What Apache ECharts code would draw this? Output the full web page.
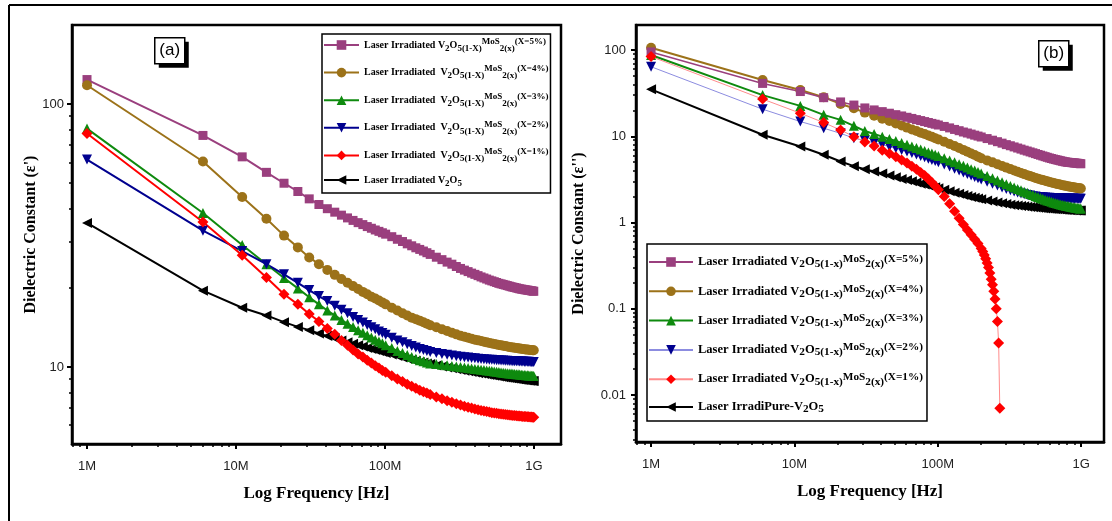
<!DOCTYPE html>
<html><head><meta charset="utf-8">
<script src="https://cdn.jsdelivr.net/npm/echarts@6/dist/echarts.min.js"></script>
<style>html,body{margin:0;padding:0;background:#fff}#c{width:1112px;height:521px}</style>
</head><body><div id="c"></div>
<script>
// ---------- DATA ----------
const FREQ_MHZ = [1,6,11,16,21,26,31,36,41,46,51,56,61,66,71,76,81,86,91,96,101,
  111,121,131,141,151,161,171,181,191,201,
  221,241,261,281,301,321,341,361,381,401,421,441,461,481,501,521,541,561,581,601,621,641,661,681,701,721,741,761,781,801,821,841,861,881,901,921,941,961,981,996];
const FREQ_RED_B_MHZ = [1,6,11,16,21,26,31,36,41,46,51,56,61,66,71,76,81,86,91,96,101,111,121,131,141,151,161,171,181,191,201,206,211,216,221,226,231,236,241,246,251,256,261,266,271];

// Panel (a): real part epsilon'
const A_X5 = [124,76,63,55,50,46.5,43.6,41.5,40.0,38.8,37.8,36.9,36.1,35.4,34.8,34.2,33.7,33.2,32.8,32.4,32.0,
  31.3,30.6,30.0,29.4,28.9,28.4,28.0,27.6,27.2,26.8,
  26.15,25.6,25.05,24.6,24.1,23.7,23.35,23.05,22.75,22.5,22.25,22.0,21.8,21.6,21.4,21.25,21.1,20.95,20.8,20.7,20.6,20.5,20.4,20.3,20.2,20.12,20.05,19.98,19.9,19.83,19.78,19.73,19.68,19.64,19.6,19.56,19.52,19.48,19.44,19.4];
const A_X4 = [118,60.5,44.3,36.6,31.6,28.5,26.1,24.6,23.4,22.4,21.6,20.9,20.3,19.8,19.3,18.9,18.5,18.2,17.9,17.6,17.3,
  16.8,16.4,16.0,15.7,15.4,15.2,15.0,14.8,14.6,14.4,
  14.15,13.9,13.7,13.5,13.3,13.15,13.03,12.92,12.8,12.7,12.62,12.54,12.47,12.4,12.33,12.28,12.23,12.18,12.13,12.08,12.04,12.0,11.96,11.92,11.89,11.86,11.83,11.8,11.77,11.74,11.72,11.7,11.68,11.66,11.64,11.62,11.6,11.59,11.58,11.57];
const A_X3 = [80.7,38.5,29.1,24.6,21.8,19.9,18.4,17.3,16.4,15.7,15.1,14.6,14.2,13.8,13.5,13.2,12.95,12.7,12.5,12.3,12.1,
  11.8,11.5,11.3,11.1,10.9,10.75,10.6,10.5,10.4,10.3,
  10.25,10.2,10.14,10.09,10.04,9.99,9.95,9.91,9.87,9.83,9.79,9.76,9.73,9.7,9.67,9.64,9.61,9.58,9.56,9.53,9.51,9.49,9.47,9.45,9.43,9.41,9.4,9.38,9.37,9.35,9.34,9.32,9.31,9.3,9.29,9.28,9.27,9.26,9.25,9.24];
const A_X2 = [61.5,33,27.6,24.6,22.5,20.9,19.6,18.6,17.8,17.1,16.5,16.0,15.5,15.1,14.75,14.45,14.15,13.9,13.65,13.45,13.25,
  12.9,12.6,12.4,12.2,12.0,11.85,11.7,11.6,11.5,11.4,
  11.3,11.2,11.12,11.05,10.99,10.94,10.89,10.85,10.81,10.78,10.75,10.72,10.7,10.68,10.66,10.64,10.62,10.61,10.6,10.58,10.57,10.56,10.55,10.54,10.53,10.52,10.51,10.5,10.5,10.49,10.48,10.48,10.47,10.47,10.46,10.46,10.45,10.45,10.44,10.44];
const A_X1 = [77.3,35.6,26.6,21.9,18.9,17.3,15.9,14.9,14.0,13.3,12.6,12.1,11.6,11.2,10.9,10.6,10.35,10.1,9.9,9.7,9.55,
  9.25,9.0,8.8,8.6,8.45,8.3,8.15,8.05,7.95,7.85,
  7.69,7.56,7.44,7.34,7.25,7.17,7.09,7.03,6.97,6.92,6.87,6.83,6.79,6.76,6.73,6.7,6.68,6.66,6.64,6.62,6.6,6.59,6.57,6.56,6.55,6.54,6.53,6.52,6.51,6.5,6.49,6.48,6.48,6.47,6.46,6.46,6.45,6.45,6.44,6.44];
const A_PURE = [35.3,19.5,16.8,15.7,14.8,14.2,13.8,13.4,13.1,12.85,12.6,12.4,12.25,12.1,11.95,11.8,11.7,11.6,11.5,11.4,11.3,
  11.15,11.0,10.85,10.75,10.65,10.55,10.45,10.4,10.3,10.25,
  10.13,10.04,9.96,9.88,9.8,9.74,9.68,9.62,9.57,9.52,9.47,9.43,9.39,9.35,9.32,9.29,9.26,9.23,9.2,9.17,9.14,9.11,9.09,9.07,9.05,9.03,9.01,8.99,8.97,8.95,8.94,8.92,8.91,8.89,8.88,8.87,8.86,8.85,8.84,8.83];

// Panel (b): imaginary part epsilon''
const B_X5 = [95,41,33,28,25,23,21.3,20.2,19.3,18.5,17.8,17.2,16.6,16.1,15.6,15.2,14.8,14.45,14.1,13.8,13.5,
  13.0,12.5,12.0,11.6,11.2,10.9,10.6,10.3,10.05,9.8,
  9.4,9.0,8.65,8.32,8.0,7.76,7.52,7.3,7.1,6.9,6.74,6.58,6.43,6.29,6.15,6.03,5.91,5.8,5.7,5.6,5.52,5.44,5.37,5.31,5.25,5.19,5.13,5.08,5.04,5.0,4.98,4.96,4.94,4.92,4.9,4.88,4.86,4.84,4.82,4.8];
const B_X4 = [106,45,34.4,28.3,23.7,21.1,18.8,17.3,16.0,15.0,14.1,13.3,12.6,12.0,11.5,11.0,10.6,10.2,9.85,9.5,9.2,
  8.65,8.15,7.7,7.3,6.95,6.6,6.3,6.05,5.8,5.55,
  5.25,4.98,4.74,4.52,4.33,4.16,4.01,3.87,3.75,3.64,3.54,3.45,3.37,3.29,3.22,3.16,3.1,3.05,3.0,2.95,2.91,2.87,2.83,2.8,2.77,2.74,2.71,2.68,2.66,2.64,2.62,2.6,2.58,2.56,2.55,2.53,2.52,2.5,2.49,2.48];
const B_X3 = [87.5,30,22.5,17.7,15.5,13.2,11.5,10.6,9.9,9.3,8.8,8.35,7.95,7.6,7.3,7.0,6.75,6.5,6.3,6.1,5.9,
  5.55,5.25,5.0,4.75,4.55,4.35,4.15,4.0,3.85,3.7,
  3.46,3.25,3.07,2.92,2.78,2.65,2.55,2.45,2.36,2.28,2.21,2.14,2.08,2.02,1.97,1.92,1.88,1.84,1.8,1.77,1.74,1.71,1.68,1.66,1.64,1.62,1.6,1.58,1.56,1.55,1.54,1.52,1.51,1.5,1.49,1.48,1.47,1.46,1.455,1.45];
const B_X2 = [64,20.6,14.8,12.4,10.8,9.5,8.9,8.4,8.0,7.6,7.25,6.95,6.65,6.4,6.15,5.9,5.7,5.5,5.3,5.15,5.0,
  4.7,4.45,4.2,4.0,3.8,3.65,3.5,3.37,3.25,3.15,
  2.97,2.81,2.68,2.54,2.44,2.36,2.29,2.23,2.17,2.12,2.08,2.05,2.02,2.0,1.98,1.97,1.96,1.95,1.94,1.93,1.925,1.92,1.915,1.91,1.91,1.905,1.9,1.9,1.9,1.9,1.895,1.895,1.89,1.89,1.89,1.885,1.885,1.88,1.88,1.88];
const B_X1 = [84,27,18.5,14.4,11.8,9.9,8.6,7.7,6.9,6.3,5.8,5.3,4.9,4.5,4.15,3.8,3.5,3.2,2.9,2.65,2.4,
  2.0,1.65,1.35,1.12,0.95,0.82,0.72,0.64,0.57,0.50,
  0.46,0.42,0.38,0.34,0.30,0.26,0.22,0.19,0.16,0.13,0.10,0.071,0.040,0.007];
const B_PURE = [35,10.4,7.6,6.1,5.1,4.5,4.15,3.9,3.7,3.5,3.35,3.2,3.1,3.0,2.9,2.82,2.75,2.68,2.62,2.56,2.5,
  2.4,2.3,2.22,2.15,2.09,2.03,1.98,1.94,1.9,1.86,
  1.8,1.75,1.71,1.67,1.64,1.61,1.59,1.57,1.55,1.54,1.52,1.51,1.5,1.49,1.48,1.47,1.46,1.455,1.45,1.44,1.435,1.43,1.425,1.42,1.42,1.415,1.41,1.405,1.4,1.4,1.395,1.39,1.39,1.385,1.385,1.38,1.38,1.378,1.376,1.375];

const NAMES_A = [
  'Laser Irradiated V2O5(1-X)MoS2(x)(X=5%)',
  'Laser Irradiated  V2O5(1-X)MoS2(x)(X=4%)',
  'Laser Irradiated  V2O5(1-X)MoS2(x)(X=3%)',
  'Laser Irradiated  V2O5(1-X)MoS2(x)(X=2%)',
  'Laser Irradiated  V2O5(1-X)MoS2(x)(X=1%)',
  'Laser Irradiated V2O5'
];
const NAMES_B = [
  'Laser Irradiated V2O5(1-x)MoS2(x)(X=5%)',
  'Laser Irradiated V2O5(1-x)MoS2(x)(X=4%)',
  'Laser Irradiated V2O5(1-x)MoS2(x)(X=3%)',
  'Laser Irradiated V2O5(1-x)MoS2(x)(X=2%)',
  'Laser Irradiated V2O5(1-x)MoS2(x)(X=1%)',
  'Laser IrradiPure-V2O5'
];
const X_TICKS = [1e6, 1e7, 1e8, 1e9];
const X_TICK_LABELS = ['1M', '10M', '100M', '1G'];
const X_MINOR = [8e5,9e5,2e6,3e6,4e6,5e6,6e6,7e6,8e6,9e6,2e7,3e7,4e7,5e7,6e7,7e7,8e7,9e7,2e8,3e8,4e8,5e8,6e8,7e8,8e8,9e8];
const YA_TICKS = [10, 100];
const YA_TICK_LABELS = ['10', '100'];
const YA_MINOR = [6,7,8,9,20,30,40,50,60,70,80,90];
const YB_TICKS = [0.01, 0.1, 1, 10, 100];
const YB_TICK_LABELS = ['0.01', '0.1', '1', '10', '100'];
const YB_MINOR = [0.003,0.004,0.005,0.006,0.007,0.008,0.009,0.02,0.03,0.04,0.05,0.06,0.07,0.08,0.09,0.2,0.3,0.4,0.5,0.6,0.7,0.8,0.9,2,3,4,5,6,7,8,9,20,30,40,50,60,70,80,90];
const TITLE_A = "Dielectric Constant (\u03b5')";
const TITLE_B = "Dielectric Constant (\u03b5'')";
const X_TITLE = 'Log Frequency [Hz]';

// ---------- CHART ----------
const COLORS = ['#9A3F7E', '#9C7219', '#0E8A0E', '#00008F', '#FF0000', '#000000'];
const SYMBOLS = ['rect', 'circle', 'triangle', 'triangle', 'diamond', 'triangle'];
const ROTATES = [0, 0, 0, 180, 0, 90];
const SYM_SIZE = [9, 10, 10, 10, 11, 10];

function pairs(fr, vals) { return vals.map((v, i) => [fr[i] * 1e6, v]); }

const SERIF = "'Liberation Serif','Times New Roman',serif";
const SANS = "'Liberation Sans',Arial,sans-serif";

function richLabel(name) {
  const m = name.match(/^(.*V)2O5(\(1-[xX]\))?(MoS)?(2\(x\))?(\(X=\d%\))?$/);
  if (!m) return '{n|' + name + '}';
  let s = '{n|' + m[1] + '}{s|2}{n|O}{s|5' + (m[2] || '') + '}';
  if (m[3]) s += '{m|' + m[3] + '}{s|' + m[4] + '}{m|' + m[5] + '}';
  return s;
}

const dataA = [A_X5, A_X4, A_X3, A_X2, A_X1, A_PURE];
const dataB = [B_X5, B_X4, B_X3, B_X2, B_X1, B_PURE];
const series = [];
[5, 0, 1, 2, 3, 4].forEach(i => {
  series.push({
    type: 'line', name: NAMES_A[i], xAxisIndex: 0, yAxisIndex: 0,
    data: pairs(FREQ_MHZ, dataA[i]),
    symbol: SYMBOLS[i], symbolRotate: ROTATES[i], symbolSize: SYM_SIZE[i],
    lineStyle: { color: COLORS[i], width: 2 }, itemStyle: { color: COLORS[i] },
    z: 3
  });
});
const LINE_B = ['#9A3F7E', '#9C7219', '#0E8A0E', '#8C8CE0', '#FF8C8C', '#000000'];
const LW_B = [1.5, 2, 2, 1, 1, 2];
[5, 3, 2, 1, 0, 4].forEach(i => {
  series.push({
    type: 'line', name: NAMES_B[i], xAxisIndex: 1, yAxisIndex: 1,
    data: pairs(i === 4 ? FREQ_RED_B_MHZ : FREQ_MHZ, dataB[i]),
    symbol: SYMBOLS[i], symbolRotate: ROTATES[i], symbolSize: SYM_SIZE[i],
    lineStyle: { color: LINE_B[i], width: LW_B[i] }, itemStyle: { color: COLORS[i] },
    z: 3
  });
});

function xAxis(grid, min, max) {
  return {
    type: 'log', gridIndex: grid, min: min, max: max,
    name: X_TITLE, nameLocation: 'middle', nameGap: 41,
    nameTextStyle: { fontFamily: SERIF, fontWeight: 'bold', fontSize: 17, color: '#000' },
    axisLine: { show: true, lineStyle: { color: '#000', width: 2.5 } },
    axisTick: { show: true, inside: false, length: 5, lineStyle: { color: '#000', width: 2 }, customValues: X_TICKS },
    axisLabel: { customValues: X_TICKS, formatter: v => X_TICK_LABELS[X_TICKS.findIndex(t => Math.abs(t - v) / t < 1e-6)] || '',
      fontFamily: SANS, fontSize: 13, color: '#222', margin: 16 },
    splitLine: { show: false }, minorTick: { show: false }
  };
}
function xMinor(grid, min, max) {
  return {
    type: 'log', gridIndex: grid, min: min, max: max, position: 'bottom',
    axisLine: { show: false }, axisLabel: { show: false }, splitLine: { show: false },
    axisTick: { show: true, inside: false, length: 3, lineStyle: { color: '#000', width: 1.5 }, customValues: X_MINOR }
  };
}
function yAxis(grid, min, max, ticks, labels, title, gap, margin) {
  return {
    type: 'log', gridIndex: grid, min: min, max: max, position: 'left',
    name: title, nameLocation: 'middle', nameGap: gap, nameRotate: 90,
    nameTextStyle: { fontFamily: SERIF, fontWeight: 'bold', fontSize: 16, color: '#000' },
    axisLine: { show: true, lineStyle: { color: '#000', width: 2.5 } },
    axisTick: { show: true, inside: false, length: 5, lineStyle: { color: '#000', width: 2 }, customValues: ticks },
    axisLabel: { customValues: ticks, formatter: v => labels[ticks.findIndex(t => Math.abs(t - v) / t < 1e-6)] || '',
      fontFamily: SANS, fontSize: 13, color: '#222', margin: margin },
    splitLine: { show: false }, minorTick: { show: false }
  };
}
function yMinor(grid, min, max, minor) {
  return {
    type: 'log', gridIndex: grid, min: min, max: max, position: 'left',
    axisLine: { show: false }, axisLabel: { show: false }, splitLine: { show: false },
    axisTick: { show: true, inside: false, length: 3, lineStyle: { color: '#000', width: 1.5 }, customValues: minor }
  };
}

function legend(names, left, top, fs, itemW, gap, pad) {
  return {
    data: names, orient: 'vertical', left: left, top: top,
    itemWidth: itemW, itemHeight: 12, itemGap: gap, padding: pad,
    borderColor: '#000', borderWidth: 1.5, backgroundColor: '#fff',
    selectedMode: false,
    formatter: richLabel,
    textStyle: {
      color: '#000', fontFamily: SERIF, fontWeight: 'bold', fontSize: fs,
      rich: {
        n: { fontFamily: SERIF, fontWeight: 'bold', fontSize: fs, color: '#000', lineHeight: 16, verticalAlign: 'middle' },
        s: { fontFamily: SERIF, fontWeight: 'bold', fontSize: fs * 0.9, color: '#000', lineHeight: 8, verticalAlign: 'bottom' },
        m: { fontFamily: SERIF, fontWeight: 'bold', fontSize: fs * 0.9, color: '#000', lineHeight: 12, verticalAlign: 'top' }
      }
    }
  };
}

function tag(text, x, y, w, h) {
  return {
    type: 'group', left: x, top: y, z: 10,
    children: [
      { type: 'rect', shape: { x: 4, y: 4, width: w, height: h }, style: { fill: '#000' } },
      { type: 'rect', shape: { x: 0, y: 0, width: w, height: h }, style: { fill: '#fff', stroke: '#000', lineWidth: 1.5 } },
      { type: 'text', style: { x: w / 2, y: h / 2, text: text, fill: '#000', font: '17px ' + SANS, align: 'center', verticalAlign: 'middle' } }
    ]
  };
}

const option = {
  animation: false,
  backgroundColor: '#fff',
  grid: [
    { left: 72, top: 25, width: 489, height: 419, show: true, borderColor: '#000', borderWidth: 2.5, backgroundColor: 'transparent' },
    { left: 636, top: 25, width: 468, height: 417, show: true, borderColor: '#000', borderWidth: 2.5, backgroundColor: 'transparent' }
  ],
  xAxis: [
    xAxis(0, 7.93e5, 1.517e9), xAxis(1, 7.85e5, 1.445e9),
    xMinor(0, 7.93e5, 1.517e9), xMinor(1, 7.85e5, 1.445e9)
  ],
  yAxis: [
    yAxis(0, 5.09, 200, YA_TICKS, YA_TICK_LABELS, TITLE_A, 33, 8),
    yAxis(1, 0.00285, 195, YB_TICKS, YB_TICK_LABELS, TITLE_B, 49, 10),
    yMinor(0, 5.09, 200, YA_MINOR), yMinor(1, 0.00285, 195, YB_MINOR)
  ],
  legend: [
    legend(NAMES_A, 322, 34, 10, 35, 11.6, [3, 2, 5, 1]),
    legend(NAMES_B, 647, 244, 12.5, 44, 13.3, [10, 4, 6, 1])
  ],
  graphic: [
    { type: 'line', shape: { x1: 9, y1: 5, x2: 1112, y2: 5 }, style: { stroke: '#000', lineWidth: 2 } },
    { type: 'line', shape: { x1: 9, y1: 5, x2: 9, y2: 521 }, style: { stroke: '#000', lineWidth: 2 } },
    tag('(a)', 154, 37, 30, 26),
    tag('(b)', 1038, 40, 30, 26)
  ],
  series: series
};
const chart = echarts.init(document.getElementById('c'), null, { renderer: 'canvas' });
chart.setOption(option);
</script>
</body></html>
